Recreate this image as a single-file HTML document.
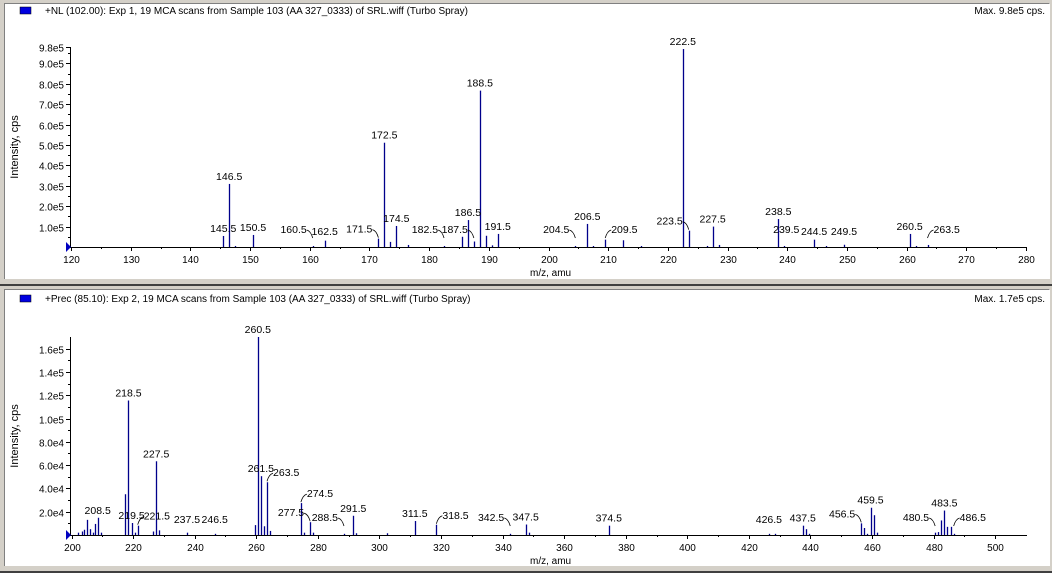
<!DOCTYPE html>
<html><head><meta charset="utf-8">
<style>
html,body{margin:0;padding:0;}
body{width:1052px;height:573px;background:#d4d0c8;position:relative;overflow:hidden;font-family:"Liberation Sans",Arial,sans-serif;}
.panel{position:absolute;background:#fff;border-top:1px solid #808080;border-left:1px solid #808080;border-right:1px solid #fff;}
.sep{position:absolute;left:0;width:1052px;height:2px;background:#404040;}
svg text{font-family:"Liberation Sans",Arial,sans-serif;}
</style></head>
<body>
<div class="panel" style="left:4px;top:3px;width:1044px;height:275px;"></div>
<div class="sep" style="top:284px;"></div>
<div class="panel" style="left:4px;top:289px;width:1044px;height:276px;"></div>
<div class="sep" style="top:571px;"></div>
<svg id="chart" width="1052" height="573" style="position:absolute;left:0;top:0"></svg>
<script>
// ---- Top spectrum data (NL 102) ----
const topMz = [145.5,146.5,147.5,150.5,160.5,162.5,171.5,172.5,173.5,174.5,176.5,182.5,185.5,186.5,187.5,188.5,189.5,190.5,191.5,204.5,206.5,207.5,209.5,212.5,215.5,222.5,223.5,226.5,227.5,228.5,238.5,239.5,244.5,246.5,249.5,260.5,261.5,263.5];
const topInt = [0.54e5,3.09e5,0.05e5,0.59e5,0.03e5,0.31e5,0.41e5,5.11e5,0.25e5,1.03e5,0.1e5,0.05e5,0.5e5,1.32e5,0.27e5,7.66e5,0.55e5,0.08e5,0.64e5,0.05e5,1.13e5,0.04e5,0.36e5,0.33e5,0.04e5,9.7e5,0.8e5,0.05e5,1.0e5,0.1e5,1.37e5,0.05e5,0.36e5,0.04e5,0.11e5,0.64e5,0.05e5,0.1e5];
const topLabels = ["145.5","146.5","150.5","160.5","162.5","171.5","172.5","174.5","182.5","186.5","187.5","188.5","191.5","204.5","206.5","209.5","222.5","223.5","227.5","238.5","239.5","244.5","249.5","260.5","263.5"];
const topYTicks = [1e5,2e5,3e5,4e5,5e5,6e5,7e5,8e5,9e5,9.8e5];
const topYTickLabels = ["1.0e5","2.0e5","3.0e5","4.0e5","5.0e5","6.0e5","7.0e5","8.0e5","9.0e5","9.8e5"];
const topXTicks = [120,130,140,150,160,170,180,190,200,210,220,230,240,250,260,270,280];

// ---- Bottom spectrum data (Prec 85.1) ----
const botMz = [202,203.5,204,205,206,207,207.5,208.5,209.5,217.5,218.5,219.5,220.5,221.5,226.5,227.5,228.5,237.5,246.5,259.5,260.5,261.5,262.5,263.5,264.5,274.5,275.5,277.5,278.5,288.5,291.5,292.5,302.5,311.5,318.5,342.5,347.5,348.5,374.5,426.5,428.5,437.5,438.5,439.5,456.5,457.5,458.5,459.5,460.5,461.5,480.5,481.5,482.5,483.5,484.5,485.5,486.5];
const botInt = [0.2e4,0.3e4,0.45e4,1.3e4,0.5e4,0.2e4,0.95e4,1.48e4,0.2e4,3.5e4,11.55e4,1.03e4,0.2e4,0.8e4,0.3e4,6.33e4,0.4e4,0.2e4,0.1e4,0.85e4,17.0e4,5.05e4,0.75e4,4.53e4,0.35e4,2.74e4,0.2e4,1.1e4,0.2e4,0.1e4,1.65e4,0.15e4,0.15e4,1.2e4,0.88e4,0.1e4,0.9e4,0.2e4,0.8e4,0.1e4,0.1e4,0.8e4,0.5e4,0.1e4,1.0e4,0.6e4,0.1e4,2.34e4,1.7e4,0.2e4,0.2e4,0.25e4,1.25e4,2.1e4,0.7e4,0.7e4,0.1e4];
const botLabels = ["208.5","218.5","219.5","221.5","227.5","237.5","246.5","260.5","261.5","263.5","274.5","277.5","288.5","291.5","311.5","318.5","342.5","347.5","374.5","426.5","437.5","456.5","459.5","480.5","483.5","486.5"];
const botYTicks = [2e4,4e4,6e4,8e4,10e4,12e4,14e4,16e4];
const botYTickLabels = ["2.0e4","4.0e4","6.0e4","8.0e4","1.0e5","1.2e5","1.4e5","1.6e5"];
const botXTicks = [200,220,240,260,280,300,320,340,360,380,400,420,440,460,480,500];

// label placement tweaks (layout, not data): [dx, dy, leader]
const topLabelLayout = {"160.5":[-14,0,1],"171.5":[-14,0,1],"182.5":[-14,0,1],"187.5":[-12,0,1],"204.5":[-14,0,1],"209.5":[14,0,1],"223.5":[-13,0,1],"263.5":[14,0,1],"145.5":[0,0,0],"239.5":[2,-2,0]};
const botLabelLayout = {"221.5":[12,0,1],"263.5":[14,0,1],"274.5":[14,0,1],"277.5":[-14,0,1],"288.5":[-14,0,1],"318.5":[14,0,1],"342.5":[-14,0,1],"456.5":[-14,0,1],"480.5":[-14,0,1],"486.5":[14,0,1],"261.5":[0,0,0]};

const svg = document.getElementById('chart');
const NS = 'http://www.w3.org/2000/svg';
function mk(tag, attrs, parent){ const e=document.createElementNS(NS,tag); for(const k in attrs) e.setAttribute(k,attrs[k]); (parent||svg).appendChild(e); return e; }
function txt(x,y,s,anchor,size,parent){ const t=mk('text',{x:x,y:y,'font-size':size||11,'text-anchor':anchor||'middle',fill:'#000'},parent); t.textContent=s; return t; }

function drawPanel(cfg){
  const g = mk('g',{});
  
  
  const xs = v => cfg.x0 + (v - cfg.xmin) * (cfg.x1 - cfg.x0) / (cfg.xmax - cfg.xmin);
  const ys = v => cfg.y0 - v * (cfg.y0 - cfg.yTop) / cfg.ymax;
  const sq = mk('rect',{x:20,y:cfg.hy-7,width:11,height:7,fill:'#0000e0',stroke:'#000','stroke-width':0.5},g);
  
  
  const ti = txt(45,cfg.hy,cfg.title,'start',10,g);
  
  
  const mx = txt(1045,cfg.hy,cfg.maxText,'end',10,g);
  
  
  mk('line',{x1:cfg.ax+0.5,y1:cfg.yTop,x2:cfg.ax+0.5,y2:cfg.y0,stroke:'#000'},g);
  mk('line',{x1:cfg.ax,y1:cfg.y0+0.5,x2:cfg.x1+1,y2:cfg.y0+0.5,stroke:'#000'},g);
  mk('polygon',{points:`${cfg.ax-4},${cfg.y0-5} ${cfg.ax+1},${cfg.y0} ${cfg.ax-4},${cfg.y0+5}`,fill:'#0000c0'},g);
  cfg.yTicks.forEach((v,i)=>{
    const y=Math.round(ys(v))+0.5;
    mk('line',{x1:cfg.ax-4,y1:y,x2:cfg.ax,y2:y,stroke:'#000'},g);
    const t=txt(cfg.ax-6,y+4,cfg.yTickLabels[i],'end',10,g);
    
    
  });
  for(let v=cfg.yMinor; v<cfg.ymax; v+=cfg.yMinor*2){
    const y=Math.round(ys(v))+0.5;
    mk('line',{x1:cfg.ax-2,y1:y,x2:cfg.ax,y2:y,stroke:'#000'},g);
  }
  cfg.xTicks.forEach(v=>{
    const x=Math.round(xs(v))+0.5;
    mk('line',{x1:x,y1:cfg.y0,x2:x,y2:cfg.y0+4,stroke:'#000'},g);
    const t=txt(x,cfg.y0+16,String(v),'middle',10,g);
    
    
  });
  for(let v=cfg.xmin+cfg.xMinor; v<cfg.xmax; v+=cfg.xMinor*2){
    const x=Math.round(xs(v))+0.5;
    mk('line',{x1:x,y1:cfg.y0,x2:x,y2:cfg.y0+2,stroke:'#000'},g);
  }
  const yl = txt(0,0,'Intensity, cps','middle',11,g);
  yl.setAttribute('transform',`translate(18,${(cfg.y0+cfg.yTop)/2}) rotate(-90)`);
  
  
  const xl = txt(530,cfg.y0+29,'m/z, amu','start',10,g);
  
  
  cfg.mz.forEach((m,i)=>{
    const x=Math.round(xs(m))+0.5;
    const p = mk('line',{x1:x,y1:cfg.y0,x2:x,y2:Math.min(cfg.y0-1,ys(cfg.inten[i])),stroke:'#00008b','stroke-width':1.3},g);
    
    
  });
  cfg.labels.forEach(s=>{
    const m=parseFloat(s); const i=cfg.mz.indexOf(m);
    const v = i>=0 ? cfg.inten[i] : 0;
    const x = xs(m);
    let ytop = Math.min(ys(v), cfg.y0-8);
    const lay = cfg.layout[s] || [0,0,0];
    let lx = x + lay[0], ly = ytop - 4 + lay[1];
    if(lay[2]){
      const dir = lay[0]<0 ? -1 : 1;
      ly = ytop - 6;
      mk('path',{d:`M${x},${ytop-1} Q${x+dir*2},${ly-2} ${x+dir*6},${ly-3}`,stroke:'#000',fill:'none','stroke-width':0.8},g);
      lx = x + dir*6;
      const t = txt(lx,ly,s,dir<0?'end':'start',10.5,g);
      
      
    } else {
      const t = txt(lx,ly,s,'middle',10.5,g);
      
      
    }
  });
}

drawPanel({name:'top-spectrum',title:'+NL (102.00): Exp 1, 19 MCA scans from Sample 103 (AA 327_0333) of SRL.wiff (Turbo Spray)',maxText:'Max. 9.8e5 cps.',hy:14,
  ax:70,x0:71,x1:1026,xmin:120,xmax:280,y0:247,yTop:47,ymax:9.8e5,yMinor:0.5e5,xMinor:5,
  yTicks:topYTicks,yTickLabels:topYTickLabels,xTicks:topXTicks,mz:topMz,inten:topInt,labels:topLabels,layout:topLabelLayout});
drawPanel({name:'bottom-spectrum',title:'+Prec (85.10): Exp 2, 19 MCA scans from Sample 103 (AA 327_0333) of SRL.wiff (Turbo Spray)',maxText:'Max. 1.7e5 cps.',hy:302,
  ax:70,x0:71.5,x1:1026,xmin:200,xmax:510,y0:535,yTop:337,ymax:1.7e5,yMinor:1e4,xMinor:10,
  yTicks:botYTicks,yTickLabels:botYTickLabels,xTicks:botXTicks,mz:botMz,inten:botInt,labels:botLabels,layout:botLabelLayout});
</script>
</body></html>
